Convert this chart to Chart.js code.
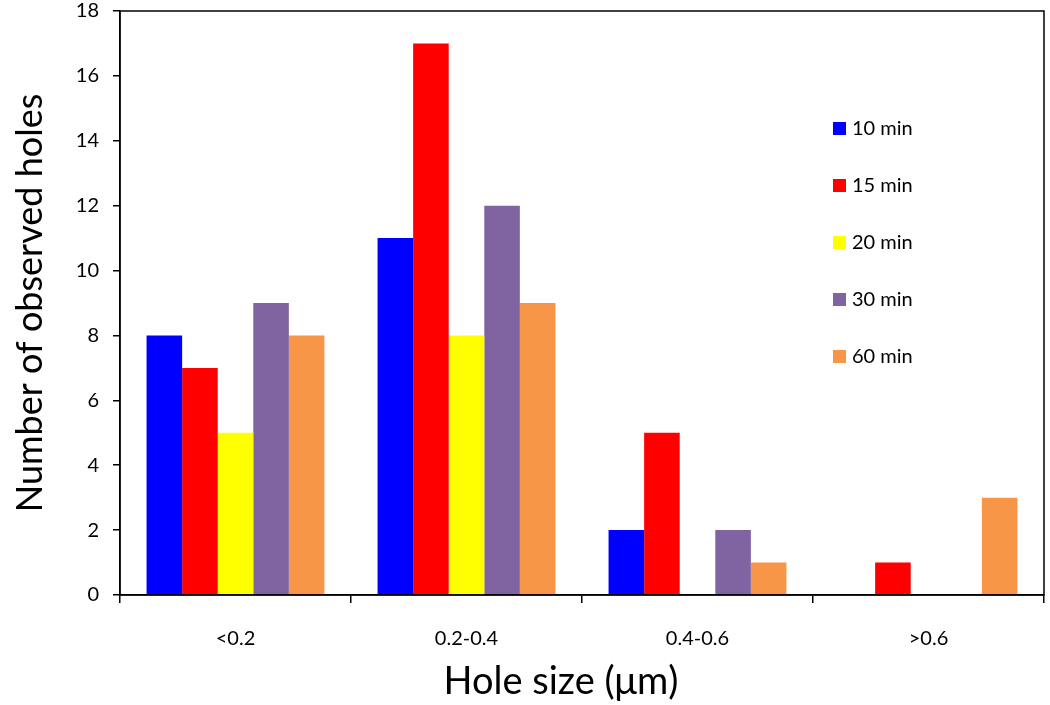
<!DOCTYPE html>
<html>
<head>
<meta charset="utf-8">
<script src="https://cdn.jsdelivr.net/npm/chart.js@4/dist/chart.umd.min.js"></script>
<style>
  html, body { margin: 0; padding: 0; background: #fff; }
  #wrap { width: 1050px; height: 705px; }
</style>
</head>
<body>
<div id="wrap"><canvas id="barChart" width="1050" height="705"></canvas></div>
<script>
// data
const categories = ['<0.2', '0.2-0.4', '0.4-0.6', '>0.6']
const seriesNames = ['10 min', '15 min', '20 min', '30 min', '60 min']
const min10 = [8, 11, 2, 0]
const min15 = [7, 17, 5, 1]
const min20 = [5, 8, 0, 0]
const min30 = [9, 12, 2, 0]
const min60 = [8, 9, 1, 3]
const yTicks = [0, 2, 4, 6, 8, 10, 12, 14, 16, 18]

const colors = ['#0000FF', '#FF0000', '#FFFF00', '#8064A2', '#F79646']
const FONT = "Lato, 'Open Sans', sans-serif"

// box round the plot area + x title (sits a bit left of the plot centre in the original)
const frame = {
    id: 'frame',
    afterDraw(chart) {
        const { ctx, chartArea: a } = chart
        ctx.save()
        ctx.strokeStyle = '#000'
        ctx.lineWidth = 1.5
        ctx.strokeRect(a.left, a.top, a.right - a.left, a.bottom - a.top)
        ctx.font = '38px ' + FONT
        ctx.fillStyle = '#000'
        ctx.textAlign = 'center'
        ctx.textBaseline = 'middle'
        ctx.fillText('Hole size (μm)', 561, 682)
        ctx.restore()
    }
}

// legend stacked inside the plot, on the right
const sideLegend = {
    id: 'sideLegend',
    afterDraw(chart) {
        const ctx = chart.ctx
        ctx.save()
        ctx.font = '20px ' + FONT
        ctx.textBaseline = 'middle'
        chart.data.datasets.forEach((ds, i) => {
            let y = 128 + i * 57
            ctx.fillStyle = ds.backgroundColor
            ctx.fillRect(833, y - 6, 13, 13)
            ctx.fillStyle = '#000'
            ctx.fillText(ds.label, 852, y + 1)
        })
        ctx.restore()
    }
}

const seriesValues = [min10, min15, min20, min30, min60]

new Chart(document.getElementById('barChart'), {
    type: 'bar',
    data: {
        labels: categories,
        datasets: seriesNames.map((name, i) => ({
            label: name,
            data: seriesValues[i],
            backgroundColor: colors[i],
            borderWidth: 0,
            categoryPercentage: 0.77,
            barPercentage: 1
        }))
    },
    options: {
        responsive: false,
        animation: false,
        layout: { padding: { top: 11, right: 6, left: 0, bottom: 0 } },
        plugins: { legend: { display: false }, tooltip: { enabled: false } },
        scales: {
            x: {
                afterFit: s => { s.height = 110; s.paddingLeft = 0; s.paddingRight = 0 },
                grid: { offset: true, drawOnChartArea: false, tickLength: 8, color: '#000', lineWidth: 1.5 },
                border: { color: '#000', width: 1.5 },
                ticks: { color: '#000', font: { family: FONT, size: 20 }, padding: 24 },
                title: { display: false }
            },
            y: {
                min: 0,
                max: 18,
                afterFit: s => { s.width = 120; s.paddingTop = 0; s.paddingBottom = 0 },
                afterBuildTicks: s => { s.ticks = yTicks.map(v => ({ value: v })) },
                grid: { drawOnChartArea: false, tickLength: 7, color: '#000', lineWidth: 1.5 },
                border: { color: '#000', width: 1.5 },
                ticks: { color: '#000', font: { family: FONT, size: 20 }, padding: 14 },
                title: { display: true, text: 'Number of observed holes', color: '#000', font: { family: FONT, size: 36 }, padding: { top: 9, bottom: 0 } }
            }
        }
    },
    plugins: [frame, sideLegend]
})
</script>
</body>
</html>
